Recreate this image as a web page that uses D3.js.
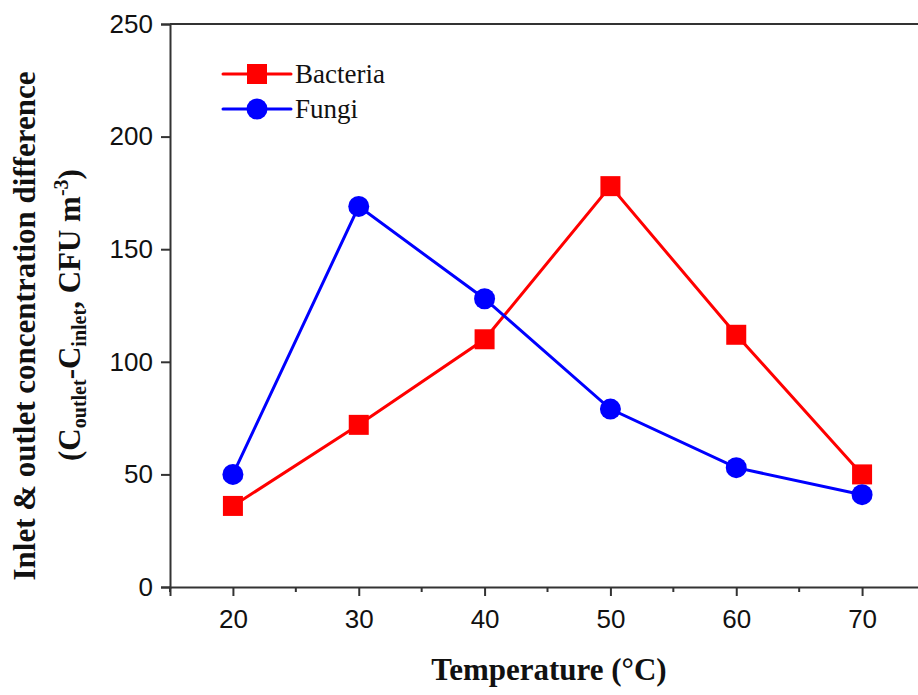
<!DOCTYPE html>
<html><head><meta charset="utf-8">
<script src="https://cdn.jsdelivr.net/npm/d3@7"></script>
<style>body{margin:0;background:#fff;}svg{display:block;}</style>
</head><body>
<svg id="c" width="918" height="695"></svg>
<script>
const temps = [20, 30, 40, 50, 60, 70];
const bacteria = [36, 72, 110, 178, 112, 50];
const fungi = [50, 169, 128, 79, 53, 41];
const yTicks = [0, 50, 100, 150, 200, 250];
const xTicks = [20, 30, 40, 50, 60, 70];
const xMinor = [15, 25, 35, 45, 55, 65, 75];
const seriesNames = ["Bacteria", "Fungi"];

const svg = d3.select("#c");
const x = d3.scaleLinear().domain([15, 75]).range([170, 925]);
const y = d3.scaleLinear().domain([0, 250]).range([587, 24]);
const axisColor = "#333";

svg.append("line").attr("x1", x(15)).attr("x2", x(75)).attr("y1", y(250)).attr("y2", y(250))
  .attr("stroke", axisColor).attr("stroke-width", 2);

const gx = svg.append("g").attr("transform", `translate(0,${y(0)})`)
  .call(d3.axisBottom(x).tickValues(xTicks).tickSize(9).tickPadding(14).tickFormat(d3.format("d")));
gx.append("g").selectAll("line").data(xMinor).join("line")
  .attr("x1", d => x(d)).attr("x2", d => x(d)).attr("y1", 0).attr("y2", 5)
  .attr("stroke", axisColor).attr("stroke-width", 2);
const gy = svg.append("g").attr("transform", `translate(${x(15)},0)`)
  .call(d3.axisLeft(y).tickValues(yTicks).tickSize(9).tickPadding(8));
[gx, gy].forEach(g => {
  g.select(".domain").attr("stroke", axisColor).attr("stroke-width", 2);
  g.selectAll(".tick line").attr("stroke", axisColor).attr("stroke-width", 2);
  g.selectAll(".tick text").attr("fill", "#111").style("font-family", "Liberation Sans, Arial, sans-serif").style("font-size", "26px");
});

const line = d3.line().x((d, i) => x(temps[i])).y(d => y(d));
const colors = ["#ff0000", "#0000ff"];
const data = [bacteria, fungi];
data.forEach((s, k) => {
  svg.append("path").attr("d", line(s)).attr("fill", "none").attr("stroke", colors[k]).attr("stroke-width", 3);
});
svg.append("g").selectAll("rect").data(bacteria).join("rect")
  .attr("x", (d, i) => x(temps[i]) - 10).attr("y", d => y(d) - 10).attr("width", 20).attr("height", 20).attr("fill", colors[0]);
svg.append("g").selectAll("circle").data(fungi).join("circle")
  .attr("cx", (d, i) => x(temps[i])).attr("cy", d => y(d)).attr("r", 10.5).attr("fill", colors[1]);

const leg = [{n: seriesNames[0], c: colors[0], yy: 74, shape: "sq"}, {n: seriesNames[1], c: colors[1], yy: 109, shape: "ci"}];
leg.forEach(l => {
  svg.append("line").attr("x1", 223).attr("x2", 291).attr("y1", l.yy).attr("y2", l.yy).attr("stroke", l.c).attr("stroke-width", 3).attr("stroke-linecap", "round");
  if (l.shape === "sq") svg.append("rect").attr("x", 247).attr("y", l.yy - 10).attr("width", 20).attr("height", 20).attr("fill", l.c);
  else svg.append("circle").attr("cx", 257).attr("cy", l.yy).attr("r", 10.5).attr("fill", l.c);
  svg.append("text").attr("x", 295).attr("y", l.yy + 9).text(l.n)
    .style("font-family", "Liberation Serif, Times New Roman, serif").style("font-size", "27px").attr("fill", "#111");
});

svg.append("text").attr("x", 549).attr("y", 680).attr("text-anchor", "middle").text("Temperature (°C)")
  .style("font-family", "Liberation Serif, Times New Roman, serif").style("font-size", "31px").style("font-weight", "bold").attr("fill", "#111");

const yt = svg.append("g").attr("transform", "rotate(-90)")
  .style("font-family", "Liberation Serif, Times New Roman, serif").style("font-weight", "bold").attr("fill", "#111");
yt.append("text").attr("x", -326).attr("y", 35).attr("text-anchor", "middle").style("font-size", "31px")
  .text("Inlet & outlet concentration difference");
const t2 = yt.append("text").attr("x", -315).attr("y", 80).attr("text-anchor", "middle").style("font-size", "31px");
t2.append("tspan").text("(C");
t2.append("tspan").text("outlet").style("font-size", "20px").attr("dy", 6);
t2.append("tspan").text("-C").attr("dy", -6);
t2.append("tspan").text("inlet").style("font-size", "20px").attr("dy", 6);
t2.append("tspan").text(", CFU m").attr("dy", -6);
t2.append("tspan").text("-3").style("font-size", "20px").attr("dy", -12);
t2.append("tspan").text(")").attr("dy", 12);
</script>
</body></html>
